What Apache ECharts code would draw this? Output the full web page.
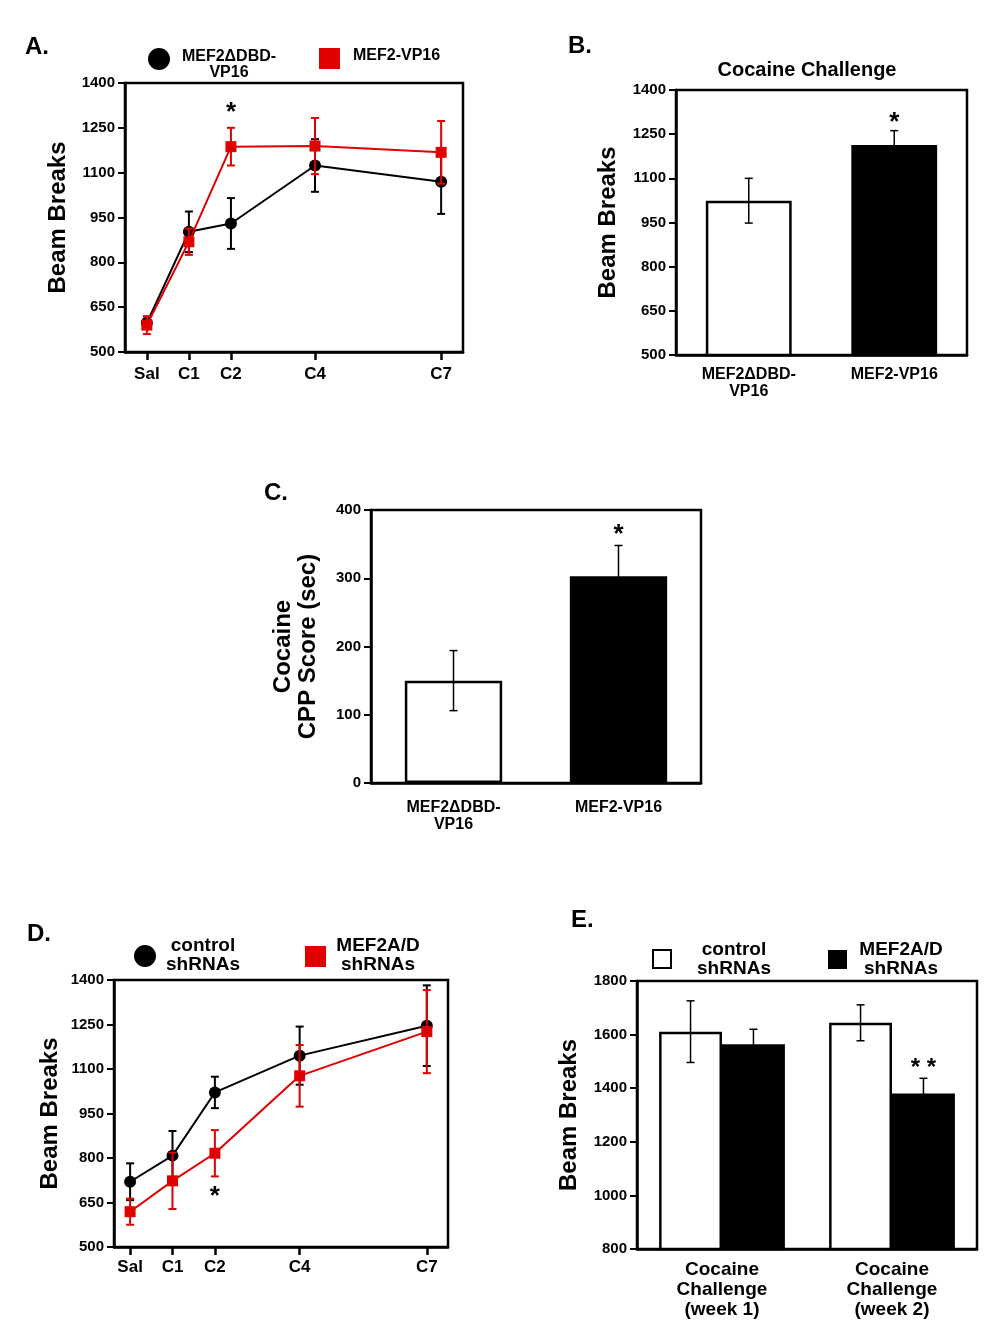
<!DOCTYPE html>
<html>
<head>
<meta charset="utf-8">
<script src="https://cdn.jsdelivr.net/npm/echarts@6/dist/echarts.min.js"></script>
<style>
html,body{margin:0;padding:0;background:#fff;}
#chart{width:987px;height:1326px;}
</style>
</head>
<body>
<div id="chart"></div>
<script>
// ---------- DATA ----------
// Panel A (x positions are days: Sal=0, C1=1, C2=2, C4=4, C7=7)
const dayLabels = ['Sal', 'C1', 'C2', 'C4', 'C7'];
const dayValues = [0, 1, 2, 4, 7];
const aTicks = [500, 650, 800, 950, 1100, 1250, 1400];
const aBlackName = 'MEF2\u0394DBD-\nVP16';
const aRedName = 'MEF2-VP16';
const aBlackMean = [597, 902, 930, 1124, 1070];
const aBlackErr = [15, 68, 85, 88, 108];
const aRedMean = [590, 869, 1187, 1189, 1168];
const aRedErr = [30, 44, 63, 94, 105];
const aStars = [[2, 1300, '*']];

// Panel B
const bCats = ['MEF2\u0394DBD-\nVP16', 'MEF2-VP16'];
const bTicks = [500, 650, 800, 950, 1100, 1250, 1400];
const bMean = [1024, 1213];
const bErr = [76, 49];
const bStars = [[1, 1290, '*']];

// Panel C
const cCats = ['MEF2\u0394DBD-\nVP16', 'MEF2-VP16'];
const cMean = [150, 303];
const cErr = [44, 45];
const cStars = [[1, 364, '*']];

// Panel D
const dTicks = [500, 650, 800, 950, 1100, 1250, 1400];
const dBlackName = 'control\nshRNAs';
const dRedName = 'MEF2A/D\nshRNAs';
const dBlackMean = [720, 808, 1021, 1145, 1246];
const dBlackErr = [62, 83, 53, 98, 136];
const dRedMean = [619, 723, 816, 1077, 1226];
const dRedErr = [44, 95, 78, 104, 140];
const dStars = [[2, 668, '*']];

// Panel E
const eCats = ['Cocaine\nChallenge\n(week 1)', 'Cocaine\nChallenge\n(week 2)'];
const eControlMean = [1611, 1644];
const eControlErr = [115, 67];
const eShMean = [1564, 1380];
const eShErr = [56, 57];
const eStars = [[1, 1475, '* *']];

// ---------- HELPERS ----------
const FONT = '"Liberation Sans", Arial, Helvetica, sans-serif';
const RED = '#e00000';
const BLACK = '#000';

function errSeries(xAxisIndex, yAxisIndex, xs, means, errs, color, lw, capHalf, offsetFrac, z) {
  return {
    type: 'custom', xAxisIndex, yAxisIndex, z: z || 5, silent: true,
    data: means.map((m, i) => [xs[i], m, errs[i]]),
    renderItem: function (params, api) {
      const x = api.value(0), y = api.value(1), e = api.value(2);
      const top = api.coord([x, y + e]);
      const bot = api.coord([x, y - e]);
      let dx = 0;
      if (offsetFrac) dx = api.size([1, 0])[0] * offsetFrac;
      const cx = top[0] + dx;
      const st = { stroke: color, lineWidth: lw, fill: null };
      return {
        type: 'group',
        children: [
          { type: 'line', shape: { x1: cx, y1: top[1], x2: cx, y2: bot[1] }, style: st },
          { type: 'line', shape: { x1: cx - capHalf, y1: top[1], x2: cx + capHalf, y2: top[1] }, style: st },
          { type: 'line', shape: { x1: cx - capHalf, y1: bot[1], x2: cx + capHalf, y2: bot[1] }, style: st }
        ]
      };
    }
  };
}

function starSeries(xAxisIndex, yAxisIndex, stars, size, offsetFrac) {
  return {
    type: 'custom', xAxisIndex, yAxisIndex, z: 10, silent: true,
    data: stars,
    renderItem: function (params, api) {
      const p = api.coord([api.value(0), api.value(1)]);
      let dx = 0;
      if (offsetFrac) dx = api.size([1, 0])[0] * offsetFrac;
      return {
        type: 'text', x: p[0] + dx, y: p[1],
        style: { text: stars[params.dataIndex][2], font: 'bold ' + size + 'px ' + FONT, fill: '#000', align: 'center', verticalAlign: 'middle' }
      };
    }
  };
}

function lineSeries(xAxisIndex, yAxisIndex, xs, means, color, symbol, symbolSize, z) {
  return {
    type: 'line', xAxisIndex, yAxisIndex, z: z,
    data: means.map((m, i) => [xs[i], m]),
    symbol: symbol, symbolSize: symbolSize, showSymbol: true,
    lineStyle: { color: color, width: 2 },
    itemStyle: { color: color, borderWidth: 0 },
    animation: false
  };
}

function plain(v) { return String(v); }

function valueY(gridIndex, min, max, ticks, name, nameGap, nameSize) {
  const labelCfg = { show: true, margin: 10, color: BLACK, fontFamily: FONT, fontWeight: 'bold', fontSize: 15, formatter: plain };
  const tickCfg = { show: true, inside: false, length: 7, lineStyle: { color: BLACK, width: 2 } };
  if (ticks) { labelCfg.customValues = ticks; tickCfg.customValues = ticks; }
  return {
    type: 'value', gridIndex, min, max,
    axisLine: { show: true, onZero: false, lineStyle: { color: BLACK, width: 2.5 } },
    axisTick: tickCfg,
    axisLabel: labelCfg,
    splitLine: { show: false },
    name: name, nameLocation: 'middle', nameRotate: 90, nameGap: nameGap,
    nameTextStyle: { color: BLACK, fontFamily: FONT, fontWeight: 'bold', fontSize: nameSize || 24, lineHeight: 25 }
  };
}

function dayX(gridIndex, min, max, margin) {
  return {
    type: 'value', gridIndex, min, max,
    axisLine: { show: true, onZero: false, lineStyle: { color: BLACK, width: 2.5 } },
    axisTick: { show: true, inside: false, length: 8, lineStyle: { color: BLACK, width: 2.5 }, customValues: dayValues },
    axisLabel: {
      show: true, margin: margin, color: BLACK, fontFamily: FONT, fontWeight: 'bold', fontSize: 17,
      customValues: dayValues,
      formatter: function (v) { const i = dayValues.indexOf(v); return i >= 0 ? dayLabels[i] : ''; }
    },
    splitLine: { show: false }
  };
}

function catX(gridIndex, cats, margin, fontSize, lineHeight) {
  return {
    type: 'category', gridIndex, data: cats,
    axisLine: { show: true, onZero: false, lineStyle: { color: BLACK, width: 2.5 } },
    axisTick: { show: false },
    axisLabel: { show: true, margin: margin, color: BLACK, fontFamily: FONT, fontWeight: 'bold', fontSize: fontSize, lineHeight: lineHeight, interval: 0 },
    splitLine: { show: false }
  };
}

function gridBox(left, top, width, height) {
  return { left, top, width, height, show: true, borderColor: BLACK, borderWidth: 2.5, backgroundColor: 'transparent', containLabel: false };
}

function txt(x, y, text, size, align) {
  return { type: 'text', x: x, y: y, style: { text: text, font: 'bold ' + size + 'px ' + FONT, fill: '#000', align: align || 'left', verticalAlign: 'middle', lineHeight: Math.round(size * 1.0) } };
}

// ---------- OPTION ----------
const option = {
  animation: false,
  backgroundColor: '#fff',
  grid: [
    gridBox(125, 83, 338, 269),   // A
    gridBox(676, 90, 291, 265),   // B
    gridBox(371, 510, 330, 273),  // C
    gridBox(114, 980, 334, 267),  // D
    gridBox(637, 981, 340, 268)   // E
  ],
  xAxis: [
    dayX(0, -0.52, 7.52, 14),
    catX(1, bCats, 11, 16, 17),
    catX(2, cCats, 16, 16, 17),
    dayX(3, -0.38, 7.5, 12),
    catX(4, eCats, 11, 19, 20)
  ],
  yAxis: [
    valueY(0, 500, 1400, aTicks, 'Beam Breaks', 54),
    valueY(1, 500, 1400, bTicks, 'Beam Breaks', 55),
    Object.assign(valueY(2, 0, 400, null, 'Cocaine\nCPP Score (sec)', 50), { interval: 100 }),
    valueY(3, 500, 1400, dTicks, 'Beam Breaks', 51),
    Object.assign(valueY(4, 800, 1800, null, 'Beam Breaks', 55), { interval: 200 })
  ],
  series: [
    // A
    errSeries(0, 0, dayValues, aBlackMean, aBlackErr, BLACK, 2, 4, 0, 3),
    lineSeries(0, 0, dayValues, aBlackMean, BLACK, 'circle', 12, 4),
    errSeries(0, 0, dayValues, aRedMean, aRedErr, RED, 2, 4, 0, 5),
    lineSeries(0, 0, dayValues, aRedMean, RED, 'rect', 11, 6),
    starSeries(0, 0, aStars, 26),
    // B
    {
      type: 'bar', xAxisIndex: 1, yAxisIndex: 1, barWidth: '59%',
      data: bMean.map((v, i) => ({ value: v, itemStyle: i === 0 ? { color: '#fff', borderColor: BLACK, borderWidth: 2.5 } : { color: BLACK, borderColor: BLACK, borderWidth: 2.5 } }))
    },
    errSeries(1, 1, [0, 1], bMean, bErr, BLACK, 1.5, 4, 0, 3),
    starSeries(1, 1, bStars, 26),
    // C
    {
      type: 'bar', xAxisIndex: 2, yAxisIndex: 2, barWidth: '59%',
      data: cMean.map((v, i) => ({ value: v, itemStyle: i === 0 ? { color: '#fff', borderColor: BLACK, borderWidth: 2.5 } : { color: BLACK, borderColor: BLACK, borderWidth: 2.5 } }))
    },
    errSeries(2, 2, [0, 1], cMean, cErr, BLACK, 1.5, 4, 0, 3),
    starSeries(2, 2, cStars, 26),
    // D
    errSeries(3, 3, dayValues, dBlackMean, dBlackErr, BLACK, 2, 4, 0, 3),
    lineSeries(3, 3, dayValues, dBlackMean, BLACK, 'circle', 12, 4),
    errSeries(3, 3, dayValues, dRedMean, dRedErr, RED, 2, 4, 0, 5),
    lineSeries(3, 3, dayValues, dRedMean, RED, 'rect', 11, 6),
    starSeries(3, 3, dStars, 26),
    // E
    {
      type: 'bar', xAxisIndex: 4, yAxisIndex: 4, barWidth: '37%', barGap: '0%',
      itemStyle: { color: '#fff', borderColor: BLACK, borderWidth: 2.5 },
      data: eControlMean
    },
    {
      type: 'bar', xAxisIndex: 4, yAxisIndex: 4, barWidth: '37%', barGap: '0%',
      itemStyle: { color: BLACK, borderColor: BLACK, borderWidth: 2.5 },
      data: eShMean
    },
    errSeries(4, 4, [0, 1], eControlMean, eControlErr, BLACK, 1.5, 4, -0.185, 3),
    errSeries(4, 4, [0, 1], eShMean, eShErr, BLACK, 1.5, 4, 0.185, 3),
    starSeries(4, 4, eStars, 24, 0.185)
  ],
  graphic: [
    // panel letters
    txt(25, 47, 'A.', 24),
    txt(568, 46, 'B.', 24),
    txt(264, 493, 'C.', 24),
    txt(27, 934, 'D.', 24),
    txt(571, 920, 'E.', 24),
    // B title
    txt(807, 70, 'Cocaine Challenge', 20, 'center'),
    // Legend A
    { type: 'circle', shape: { cx: 159, cy: 59, r: 11 }, style: { fill: BLACK } },
    txt(229, 65, aBlackName, 16, 'center'),
    { type: 'rect', shape: { x: 319, y: 48, width: 21, height: 21 }, style: { fill: RED } },
    txt(353, 56, aRedName, 16, 'left'),
    // Legend D
    { type: 'circle', shape: { cx: 145, cy: 956, r: 11 }, style: { fill: BLACK } },
    txt(203, 955, dBlackName, 19, 'center'),
    { type: 'rect', shape: { x: 305, y: 946, width: 21, height: 21 }, style: { fill: RED } },
    txt(378, 955, dRedName, 19, 'center'),
    // Legend E
    { type: 'rect', shape: { x: 653, y: 950, width: 18, height: 18 }, style: { fill: '#fff', stroke: BLACK, lineWidth: 2 } },
    txt(734, 959, dBlackName, 19, 'center'),
    { type: 'rect', shape: { x: 828, y: 950, width: 19, height: 19 }, style: { fill: BLACK } },
    txt(901, 959, dRedName, 19, 'center')
  ]
};

const chart = echarts.init(document.getElementById('chart'), null, { renderer: 'canvas', width: 987, height: 1326 });
chart.setOption(option);
</script>
</body>
</html>
